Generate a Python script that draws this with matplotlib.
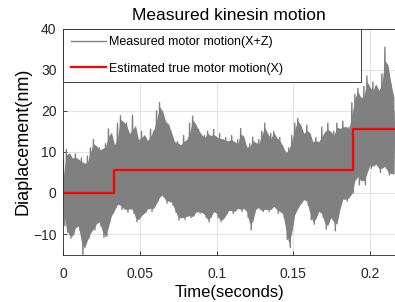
import numpy as np
import matplotlib
matplotlib.use("Agg")
import matplotlib.pyplot as plt

plt.rcParams["font.family"] = ["Liberation Sans", "DejaVu Sans"]

# ── data ─────────────────────────────────────────────────────────────────────
# upper / lower excursions of the noisy trace, one pair per ~2 ms
DT = 0.00196
upper = [8, 10.6, 9, 8, 9.5, 7, 8.5, 6, 9, 11,
         13, 10, 11, 10.5, 12, 15.6, 14, 9.5, 17, 18.8,
         16, 17, 12, 18.9, 14, 12, 15, 13.5, 12, 15.5,
         15, 20, 22, 18, 17, 16.5, 13, 12, 12.5, 11,
         14, 12, 17, 18.7, 15, 15.5, 13, 14, 15, 13,
         15.5, 12, 14.5, 12, 13.5, 12, 14, 11, 13, 15.7,
         12, 10.5, 12, 13.6, 11, 13, 15, 17, 12, 14.5,
         15, 12, 13.5, 9.6, 10, 11, 14, 17, 18.2, 15,
         14, 16.5, 13, 12, 13.5, 11.5, 16, 14, 17, 13,
         15, 17, 14.5, 17.5, 15, 16, 22, 24, 25.5, 21,
         26, 28.5, 23, 27, 26, 24, 29, 35.5, 27, 26.5,
         20]
lower = [-8, -9.6, -11, -10, -7, -9, -15, -12, -11, -8.5,
         -9, -6, -8, -10.8, -10.5, -6, -5, -3.5, -2, -4,
         -3.5, -4.7, -3, -5, -7, -6, -5, -4.7, -3, -4.5,
         -3, -2, 0, -1, -2.5, -1.5, -3, -4.7, -6.6, -5.5,
         -6.4, -5, -6, -5.5, -4, -5, -4.5, -6, -7, -5,
         -4, -6, -7, -6, -5, -3.5, -5, -4, -3.5, -4.5,
         -3, -6, -9, -5, -3, -4, -4.5, -3.5, -4.5, -3.5,
         -3, -5, -4, -6, -11.3, -13.3, -6, -4.5, -3, -2.2,
         -1, -3, -6.5, -7.6, -5, -4, -6, -8.8, -7, -5,
         -9.2, -6, -2, -1, -2, -0.3, 0, 6, 2, 4,
         2, 7.5, 6, 7, 7, 5, 7, 6, 4.4, 5,
         4.4]

step_times = [0, 0.0333, 0.1887, 0.2163]
step_levels = [0, 5.5, 15.5, 15.5]

n = min(len(upper), len(lower))
measured = np.empty(2 * n)
measured[0::2] = upper[:n]
measured[1::2] = lower[:n]
t = np.arange(2 * n) * (DT / 2)

# ── figure ───────────────────────────────────────────────────────────────────
fig = plt.figure(figsize=(3.95, 3.02), dpi=100)
ax = fig.add_axes([0.1605, 0.157, 0.8395, 0.748])

GRAY = "#808080"
# dense trace: solid core between the excursions plus the spiky line itself
ax.fill_between(t[0::2], np.convolve(lower[:n], [0.5, 0.5], "same"),
                np.convolve(upper[:n], [0.5, 0.5], "same"),
                color=GRAY, linewidth=0)
ax.plot(t, measured, color=GRAY, linewidth=1.0,
        label="Measured motor motion(X+Z)")
ax.step(step_times, step_levels, where="post", color="#ff0000",
        linewidth=1.6, label="Estimated true motor motion(X)")

ax.set_xlim(0, 0.2163)
ax.set_ylim(-15, 40)
ax.set_xticks([0, 0.05, 0.1, 0.15, 0.2])
ax.set_xticklabels(["0", "0.05", "0.1", "0.15", "0.2"])
ax.set_yticks([-10, 0, 10, 20, 30, 40])

ax.grid(True, color="#e3e3e3", linewidth=0.8)
ax.set_axisbelow(True)
ax.tick_params(direction="in", length=3, width=0.6, colors="#262626",
               labelsize=10)
ax.tick_params(axis="x", pad=9)
ax.tick_params(axis="y", pad=5)
for side in ["left", "bottom", "top"]:
    ax.spines[side].set_color("#262626")
    ax.spines[side].set_linewidth(0.6)
ax.spines["right"].set_visible(False)

ax.set_title("Measured kinesin motion", fontsize=12.5, pad=6)
ax.set_xlabel("Time(seconds)", fontsize=12, labelpad=3)
ax.set_ylabel("Diaplacement(nm)", fontsize=13, labelpad=1)

leg = ax.legend(loc="upper left", bbox_to_anchor=(0, 0.743, 0.897, 0.257),
                mode="expand", borderaxespad=0, fontsize=9, fancybox=False,
                framealpha=1, edgecolor="#262626", handlelength=2.8,
                handletextpad=0.25, labelspacing=1.15, borderpad=0.6)
leg.get_frame().set_linewidth(0.6)

fig.savefig("out.png", dpi=100)
